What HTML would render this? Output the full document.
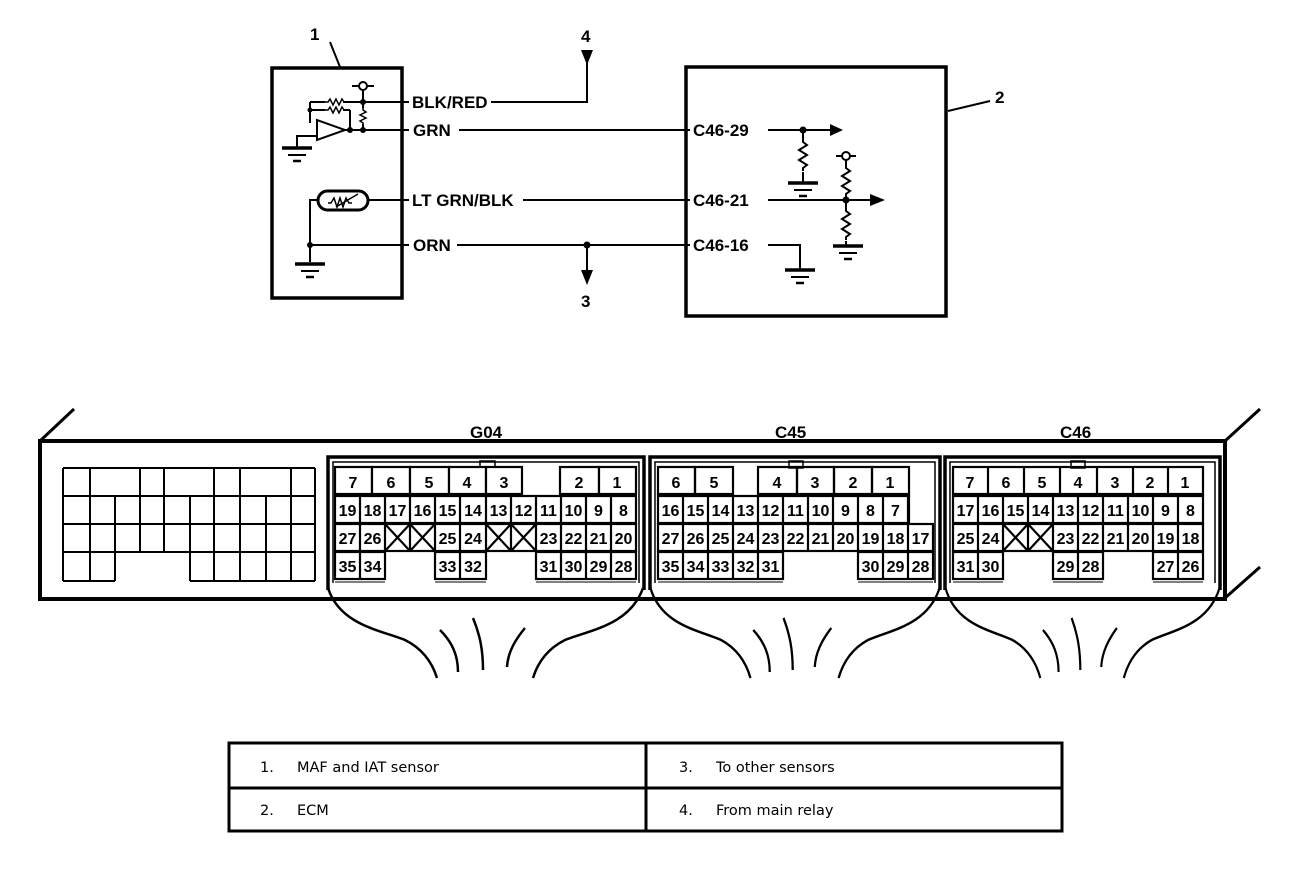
<!DOCTYPE html>
<html><head><meta charset="utf-8"><style>
html,body{margin:0;padding:0;background:#fff;}
svg{display:block;}
.l{font-family:"Liberation Sans",sans-serif;font-weight:bold;font-size:17px;fill:#000;}
.p{font-family:"Liberation Sans",sans-serif;font-weight:900;font-size:16px;fill:#000;text-anchor:middle;}
.t{font-family:"DejaVu Sans",sans-serif;font-size:14.5px;fill:#000;}
</style></head><body>
<svg width="1312" height="878" viewBox="0 0 1312 878" xmlns="http://www.w3.org/2000/svg">
<defs>
<g id="gnd" stroke="#000" fill="none"><line x1="-15" y1="0" x2="15" y2="0" stroke-width="3.5"/><line x1="-9" y1="7" x2="9" y2="7" stroke-width="2"/><line x1="-4" y1="13" x2="4" y2="13" stroke-width="2.5"/></g>
<path id="rv" d="M0 0 l0 3 l4 3 l-8 5 l8 5 l-8 5 l8 5 l-4 3 l0 3" fill="none" stroke="#000" stroke-width="2"/>
<path id="rh" d="M0 0 l3 0 l2 -3 l3 6 l3 -6 l3 6 l3 -6 l2 3 l3 0" fill="none" stroke="#000" stroke-width="1.5"/>
<g id="dn"><polygon points="-6,0 6,0 0,15" fill="#000"/></g>
</defs>

<g stroke="#000" fill="none">
<rect x="272" y="68" width="130" height="230" stroke-width="3.5"/>
<line x1="330" y1="42" x2="340" y2="67" stroke-width="2"/>
<rect x="686" y="67" width="260" height="249" stroke-width="3.5"/>
<line x1="948" y1="111" x2="990" y2="101" stroke-width="2"/>
</g>
<text class="l" x="310" y="40">1</text>
<text class="l" x="995" y="103">2</text>
<text class="l" x="581" y="42">4</text>
<text class="l" x="581" y="307">3</text>

<g stroke="#000" stroke-width="2" fill="none">
<line x1="352" y1="86" x2="374" y2="86"/>
<circle cx="363" cy="86" r="4" fill="#fff"/>
<line x1="363" y1="90" x2="363" y2="108"/>
<line x1="363" y1="124" x2="363" y2="130"/>
<line x1="310" y1="102" x2="325" y2="102"/><line x1="343" y1="102" x2="402" y2="102"/>
<line x1="310" y1="102" x2="310" y2="123"/>
<line x1="310" y1="110" x2="325" y2="110"/><line x1="343" y1="110" x2="350" y2="110"/>
<line x1="350" y1="110" x2="350" y2="130"/>
<polygon points="317,120 317,140 345,130"/>
<line x1="345" y1="130" x2="402" y2="130"/>
<polyline points="317,136 297,136 297,148"/>
<rect x="318" y="191" width="50" height="19" rx="9.5" stroke-width="3"/>
<path d="M328 203 l3 0 l3 -5 l3 9 l3 -9 l3 9 l3 -9 l3 5 l3 0" stroke-width="1.5"/>
<line x1="336" y1="207" x2="358" y2="194" stroke-width="1.5"/>
<line x1="368" y1="200" x2="402" y2="200"/>
<polyline points="318,200 310,200 310,262"/>
<line x1="310" y1="245" x2="402" y2="245"/>
</g>
<use href="#rh" x="325" y="102"/><use href="#rh" x="325" y="110"/>
<path d="M363 108 l0 2 l3 2 l-6 3 l6 3 l-6 3 l3 2 l0 1" fill="none" stroke="#000" stroke-width="1.5"/>
<g fill="#000"><circle cx="363" cy="102" r="3"/><circle cx="363" cy="130" r="3"/><circle cx="350" cy="130" r="3"/><circle cx="310" cy="110" r="2.5"/><circle cx="310" cy="245" r="3"/></g>
<use href="#gnd" x="297" y="148"/>
<use href="#gnd" x="310" y="264"/>

<g stroke="#000" stroke-width="2" fill="none">
<line x1="402" y1="102" x2="409" y2="102"/><line x1="402" y1="130" x2="409" y2="130"/>
<line x1="402" y1="200" x2="409" y2="200"/><line x1="402" y1="245" x2="409" y2="245"/>
<polyline points="491,102 587,102 587,62"/>
<line x1="459" y1="130" x2="690" y2="130"/>
<line x1="523" y1="200" x2="690" y2="200"/>
<line x1="457" y1="245" x2="690" y2="245"/>
<line x1="587" y1="245" x2="587" y2="270"/>
</g>
<use href="#dn" x="587" y="50"/>
<use href="#dn" x="587" y="270"/>
<circle cx="587" cy="245" r="3.5" fill="#000"/>
<text class="l" x="412" y="108">BLK/RED</text>
<text class="l" x="413" y="136">GRN</text>
<text class="l" x="412" y="206">LT GRN/BLK</text>
<text class="l" x="413" y="251">ORN</text>
<text class="l" x="693" y="136">C46-29</text>
<text class="l" x="693" y="206">C46-21</text>
<text class="l" x="693" y="251">C46-16</text>

<g stroke="#000" stroke-width="2" fill="none">
<line x1="768" y1="130" x2="830" y2="130"/>
<line x1="803" y1="130" x2="803" y2="139"/><line x1="803" y1="172" x2="803" y2="183"/>
<line x1="768" y1="200" x2="870" y2="200"/>
<line x1="836" y1="156" x2="856" y2="156"/>
<circle cx="846" cy="156" r="4" fill="#fff"/>
<line x1="846" y1="160" x2="846" y2="165"/>
<line x1="846" y1="198" x2="846" y2="208"/>
<line x1="846" y1="241" x2="846" y2="246"/>
<polyline points="768,245 800,245 800,270"/>
</g>
<use href="#rv" x="803" y="139"/>
<use href="#rv" x="846" y="165"/>
<use href="#rv" x="846" y="208"/>
<polygon points="830,124 830,136 843,130" fill="#000"/>
<polygon points="870,194 870,206 885,200" fill="#000"/>
<circle cx="803" cy="130" r="3.5" fill="#000"/>
<circle cx="846" cy="200" r="3.5" fill="#000"/>
<use href="#gnd" x="803" y="183"/>
<use href="#gnd" x="848" y="246"/>
<use href="#gnd" x="800" y="270"/>

<g stroke="#000" fill="none">
<rect x="40" y="441" width="1185" height="158" stroke-width="4"/>
<line x1="40" y1="441" x2="74" y2="409" stroke-width="3"/>
<line x1="1225" y1="441" x2="1260" y2="409" stroke-width="3"/>
<line x1="1225" y1="598" x2="1260" y2="567" stroke-width="3"/>
<g stroke-width="2">
<line x1="63" y1="468" x2="315" y2="468"/>
<line x1="63" y1="496" x2="315" y2="496"/>
<line x1="63" y1="524" x2="315" y2="524"/>
<line x1="63" y1="552" x2="315" y2="552"/>
<line x1="63" y1="581" x2="115" y2="581"/>
<line x1="190" y1="581" x2="315" y2="581"/>
<line x1="63" y1="468" x2="63" y2="581"/>
<line x1="90" y1="468" x2="90" y2="581"/>
<line x1="140" y1="468" x2="140" y2="552"/>
<line x1="164" y1="468" x2="164" y2="552"/>
<line x1="214" y1="468" x2="214" y2="581"/>
<line x1="240" y1="468" x2="240" y2="581"/>
<line x1="291" y1="468" x2="291" y2="581"/>
<line x1="315" y1="468" x2="315" y2="581"/>
<line x1="115" y1="496" x2="115" y2="581"/>
<line x1="190" y1="496" x2="190" y2="581"/>
<line x1="266" y1="496" x2="266" y2="581"/>
</g>
<path d="M328 590 L328 457 L644 457 L644 590" stroke-width="3.5"/>
<path d="M333 583 L333 462 L639 462 L639 583" stroke-width="1.5"/>
<path d="M650 590 L650 457 L940 457 L940 590" stroke-width="3.5"/>
<path d="M655 583 L655 462 L935 462 L935 583" stroke-width="1.5"/>
<path d="M945 590 L945 457 L1220 457 L1220 590" stroke-width="3.5"/>
<path d="M950 583 L950 462 L1215 462 L1215 583" stroke-width="1.5"/>
<rect x="480" y="461" width="15" height="7" stroke-width="1.5"/>
<rect x="789" y="461" width="14" height="7" stroke-width="1.5"/>
<rect x="1071" y="461" width="14" height="7" stroke-width="1.5"/>
</g>
<text class="l" x="470" y="438">G04</text>
<text class="l" x="775" y="438">C45</text>
<text class="l" x="1060" y="438">C46</text>

<g id="bun" stroke="#000" stroke-width="2.5" fill="none">
<path d="M328 588 C340 625 380 630 405 640 C425 650 433 665 437 678"/>
<path d="M643 588 C630 625 590 630 565 640 C545 650 537 665 533 678"/>
<path d="M440 630 C452 642 458 655 458 672"/>
<path d="M473 618 C480 635 483 650 483 670"/>
<path d="M525 628 C515 640 508 652 507 667"/>
</g>
<use href="#bun" transform="translate(795,0) scale(0.918,1) translate(-485.5,0)"/>
<use href="#bun" transform="translate(1082.5,0) scale(0.87,1) translate(-485.5,0)"/>

<g stroke="#000" stroke-width="2.2" fill="#fff">
<rect x="335" y="467" width="37" height="27"/><rect x="372" y="467" width="38" height="27"/><rect x="410" y="467" width="39" height="27"/><rect x="449" y="467" width="37" height="27"/><rect x="486" y="467" width="36" height="27"/>
<rect x="560" y="467" width="39" height="27"/><rect x="599" y="467" width="37" height="27"/>
</g>
<g stroke="#000" stroke-width="2.2" fill="none">
<rect x="335" y="496" width="301" height="27"/>
<rect x="335" y="524" width="301" height="27"/>
<rect x="335" y="552" width="50" height="27"/>
<rect x="435" y="552" width="51" height="27"/>
<rect x="536" y="552" width="100" height="27"/>
<path d="M360 496V579 M385 496V551 M410 496V551 M435 496V551 M460 496V579 M486 496V551 M511 496V551 M536 496V551 M561 496V579 M586 496V579 M611 496V579"/>
<path d="M385 524 L410 551 M410 524 L385 551 M410 524 L435 551 M435 524 L410 551 M486 524 L511 551 M511 524 L486 551 M511 524 L536 551 M536 524 L511 551"/>
<path d="M335 582H385 M435 582H486 M536 582H636" stroke-width="1"/>
</g>
<g>
<text class="p" x="353" y="488">7</text><text class="p" x="391" y="488">6</text><text class="p" x="429" y="488">5</text><text class="p" x="467" y="488">4</text><text class="p" x="504" y="488">3</text><text class="p" x="579" y="488">2</text><text class="p" x="617" y="488">1</text>
<text class="p" x="347.5" y="516">19</text><text class="p" x="372.5" y="516">18</text><text class="p" x="397.5" y="516">17</text><text class="p" x="422.5" y="516">16</text><text class="p" x="447.5" y="516">15</text><text class="p" x="473" y="516">14</text><text class="p" x="498.5" y="516">13</text><text class="p" x="523.5" y="516">12</text><text class="p" x="548.5" y="516">11</text><text class="p" x="573.5" y="516">10</text><text class="p" x="598.5" y="516">9</text><text class="p" x="623.5" y="516">8</text>
<text class="p" x="347.5" y="544">27</text><text class="p" x="372.5" y="544">26</text><text class="p" x="447.5" y="544">25</text><text class="p" x="473" y="544">24</text><text class="p" x="548.5" y="544">23</text><text class="p" x="573.5" y="544">22</text><text class="p" x="598.5" y="544">21</text><text class="p" x="623.5" y="544">20</text>
<text class="p" x="347.5" y="572">35</text><text class="p" x="372.5" y="572">34</text><text class="p" x="447.5" y="572">33</text><text class="p" x="473" y="572">32</text><text class="p" x="548.5" y="572">31</text><text class="p" x="573.5" y="572">30</text><text class="p" x="598.5" y="572">29</text><text class="p" x="623.5" y="572">28</text>
</g>

<g stroke="#000" stroke-width="2.2" fill="none">
<rect x="658" y="467" width="37" height="27"/><rect x="695" y="467" width="38" height="27"/>
<rect x="758" y="467" width="39" height="27"/><rect x="797" y="467" width="37" height="27"/><rect x="834" y="467" width="38" height="27"/><rect x="872" y="467" width="37" height="27"/>
<rect x="658" y="496" width="251" height="27"/>
<rect x="658" y="524" width="275" height="27"/>
<rect x="658" y="552" width="125" height="27"/>
<rect x="858" y="552" width="75" height="27"/>
<path d="M683 496V579 M708 496V579 M733 496V579 M758 496V579 M783 496V551 M808 496V551 M833 496V551 M858 496V551 M883 496V579 M908 496V579"/>
<path d="M658 582H783 M858 582H933" stroke-width="1"/>
</g>
<g>
<text class="p" x="676" y="488">6</text><text class="p" x="714" y="488">5</text><text class="p" x="777" y="488">4</text><text class="p" x="815" y="488">3</text><text class="p" x="853" y="488">2</text><text class="p" x="890" y="488">1</text>
<text class="p" x="670.5" y="516">16</text><text class="p" x="695.5" y="516">15</text><text class="p" x="720.5" y="516">14</text><text class="p" x="745.5" y="516">13</text><text class="p" x="770.5" y="516">12</text><text class="p" x="795.5" y="516">11</text><text class="p" x="820.5" y="516">10</text><text class="p" x="845.5" y="516">9</text><text class="p" x="870.5" y="516">8</text><text class="p" x="895.5" y="516">7</text>
<text class="p" x="670.5" y="544">27</text><text class="p" x="695.5" y="544">26</text><text class="p" x="720.5" y="544">25</text><text class="p" x="745.5" y="544">24</text><text class="p" x="770.5" y="544">23</text><text class="p" x="795.5" y="544">22</text><text class="p" x="820.5" y="544">21</text><text class="p" x="845.5" y="544">20</text><text class="p" x="870.5" y="544">19</text><text class="p" x="895.5" y="544">18</text><text class="p" x="920.5" y="544">17</text>
<text class="p" x="670.5" y="572">35</text><text class="p" x="695.5" y="572">34</text><text class="p" x="720.5" y="572">33</text><text class="p" x="745.5" y="572">32</text><text class="p" x="770.5" y="572">31</text><text class="p" x="870.5" y="572">30</text><text class="p" x="895.5" y="572">29</text><text class="p" x="920.5" y="572">28</text>
</g>

<g stroke="#000" stroke-width="2.2" fill="none">
<rect x="953" y="467" width="250" height="27"/>
<path d="M988 467V494 M1024 467V494 M1060 467V494 M1097 467V494 M1133 467V494 M1168 467V494"/>
<rect x="953" y="496" width="250" height="27"/>
<rect x="953" y="524" width="250" height="27"/>
<rect x="953" y="552" width="50" height="27"/>
<rect x="1053" y="552" width="50" height="27"/>
<rect x="1153" y="552" width="50" height="27"/>
<path d="M978 496V579 M1003 496V551 M1028 496V551 M1053 496V551 M1078 496V579 M1103 496V551 M1128 496V551 M1153 496V551 M1178 496V579"/>
<path d="M1003 524 L1028 551 M1028 524 L1003 551 M1028 524 L1053 551 M1053 524 L1028 551"/>
<path d="M953 582H1003 M1053 582H1103 M1153 582H1203" stroke-width="1"/>
</g>
<g>
<text class="p" x="970" y="488">7</text><text class="p" x="1006" y="488">6</text><text class="p" x="1042" y="488">5</text><text class="p" x="1078" y="488">4</text><text class="p" x="1115" y="488">3</text><text class="p" x="1150" y="488">2</text><text class="p" x="1185" y="488">1</text>
<text class="p" x="965.5" y="516">17</text><text class="p" x="990.5" y="516">16</text><text class="p" x="1015.5" y="516">15</text><text class="p" x="1040.5" y="516">14</text><text class="p" x="1065.5" y="516">13</text><text class="p" x="1090.5" y="516">12</text><text class="p" x="1115.5" y="516">11</text><text class="p" x="1140.5" y="516">10</text><text class="p" x="1165.5" y="516">9</text><text class="p" x="1190.5" y="516">8</text>
<text class="p" x="965.5" y="544">25</text><text class="p" x="990.5" y="544">24</text><text class="p" x="1065.5" y="544">23</text><text class="p" x="1090.5" y="544">22</text><text class="p" x="1115.5" y="544">21</text><text class="p" x="1140.5" y="544">20</text><text class="p" x="1165.5" y="544">19</text><text class="p" x="1190.5" y="544">18</text>
<text class="p" x="965.5" y="572">31</text><text class="p" x="990.5" y="572">30</text><text class="p" x="1065.5" y="572">29</text><text class="p" x="1090.5" y="572">28</text><text class="p" x="1165.5" y="572">27</text><text class="p" x="1190.5" y="572">26</text>
</g>

<g stroke="#000" stroke-width="3" fill="none">
<rect x="229" y="743" width="833" height="88"/>
<line x1="229" y1="788" x2="1062" y2="788"/>
<line x1="646" y1="743" x2="646" y2="831"/>
</g>
<text class="t" x="260" y="772">1.</text><text class="t" x="297" y="772">MAF and IAT sensor</text>
<text class="t" x="260" y="815">2.</text><text class="t" x="297" y="815">ECM</text>
<text class="t" x="679" y="772">3.</text><text class="t" x="716" y="772">To other sensors</text>
<text class="t" x="679" y="815">4.</text><text class="t" x="716" y="815">From main relay</text>
</svg>
</body></html>
